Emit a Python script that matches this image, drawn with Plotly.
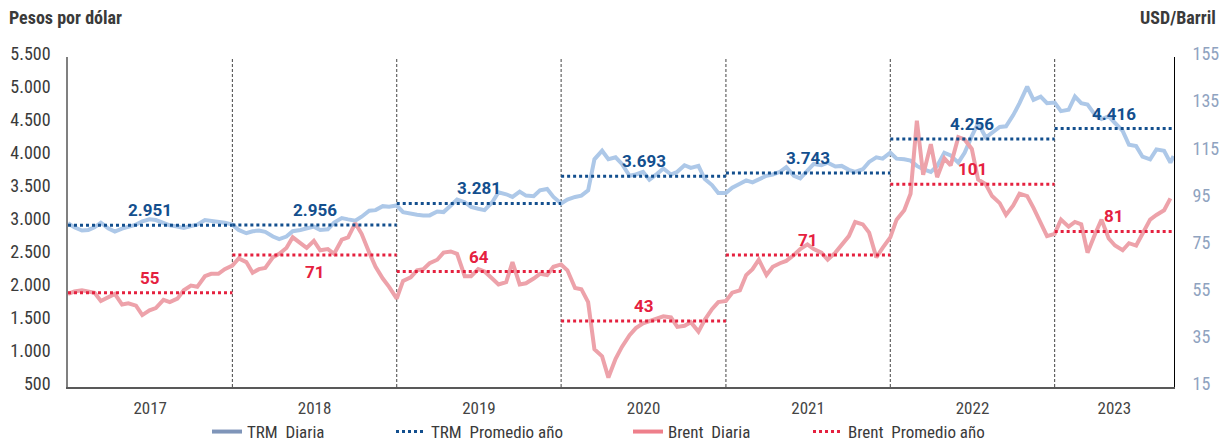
import pandas as pd
import plotly.graph_objects as go

# ---------------------------------------------------------------------------
# Data: TRM (pesos por dólar) and Brent (USD/barril), semi-monthly readings
# ---------------------------------------------------------------------------
years = [2017, 2018, 2019, 2020, 2021, 2022, 2023]
year_labels = ["2017", "2018", "2019", "2020", "2021", "2022", "2023"]

trm_avg = [2951, 2956, 3281, 3693, 3743, 4256, 4416]
brent_avg = [55, 71, 64, 43, 71, 101, 81]

trm_2017 = [2981, 2920, 2870, 2880, 2920, 2990, 2900, 2855, 2900, 2930, 2960, 3010,
            3040, 3030, 2980, 2950, 2930, 2910, 2940, 2960, 3030, 3020, 3000, 2990]
trm_2018 = [2960, 2880, 2830, 2860, 2870, 2850, 2780, 2740, 2780, 2860, 2880, 2900,
            2930, 2880, 2890, 2990, 3060, 3040, 3020, 3080, 3170, 3180, 3240, 3230]
trm_2019 = [3250, 3150, 3120, 3110, 3100, 3100, 3160, 3150, 3250, 3340, 3300, 3230,
            3200, 3180, 3300, 3450, 3420, 3380, 3460, 3400, 3390, 3480, 3500, 3380]
trm_2020 = [3280, 3340, 3380, 3400, 3480, 3950, 4080, 3950, 3980, 3880, 3700, 3720,
            3760, 3640, 3730, 3810, 3720, 3760, 3860, 3820, 3850, 3650, 3560, 3440]
trm_2021 = [3440, 3520, 3580, 3630, 3600, 3640, 3700, 3720, 3760, 3830, 3700, 3660,
            3780, 3880, 3860, 3900, 3840, 3850, 3790, 3760, 3800, 3910, 3980, 3960]
trm_2022 = [4050, 3960, 3950, 3930, 3850, 3800, 3760, 3850, 4050, 4010, 3900, 4050,
            4300, 4500, 4280, 4350, 4440, 4450, 4620, 4800, 5050, 4850, 4900, 4800]
trm_2023 = [4810, 4680, 4700, 4900, 4800, 4780, 4620, 4560, 4600, 4500, 4380, 4170,
            4150, 3990, 3950, 4100, 4080, 3900, 4000]

brent_2017 = [54.5, 55.5, 56, 55.5, 55, 51.5, 53, 54.5, 50, 50.5, 49.5, 45.5,
              47.5, 48.5, 52, 51, 52.5, 56, 58, 57.5, 62, 63, 63, 65]
brent_2018 = [66.5, 69.5, 68, 63.5, 65, 65.5, 70, 71.5, 74, 78.5, 76, 74,
              77, 73, 73.5, 71.5, 77.5, 78.5, 84.5, 80, 72, 66, 61, 57.5]
brent_2019 = [52.5, 60, 61.5, 64.5, 65, 67.5, 69, 72, 72.5, 71.5, 62, 62,
              65, 64, 61, 58.5, 59.5, 68, 58.5, 59, 61, 63, 62.5, 66]
brent_2020 = [67, 64.5, 57, 56.5, 51, 31, 28, 19, 27, 32, 37, 40,
              42, 43, 44, 45, 44.5, 40.5, 41, 42.5, 38.5, 43.5, 48, 51]
brent_2021 = [51.5, 55, 56, 62.5, 65, 69, 62.5, 66, 67.5, 68.5, 71, 73.5,
              75.5, 73.5, 72, 69, 72, 75, 79, 85, 84, 80.5, 70, 74]
brent_2022 = [78.5, 86, 90, 97, 128, 105, 118, 104, 112, 109, 121, 120,
              116, 103, 101, 96, 93, 88, 92, 97, 96, 91, 85, 79]
brent_2023 = [80, 86, 83, 85, 84, 72, 80, 86, 78, 75, 73, 76,
              75, 80, 86, 88, 90, 95]

trm = trm_2017 + trm_2018 + trm_2019 + trm_2020 + trm_2021 + trm_2022 + trm_2023
brent = brent_2017 + brent_2018 + brent_2019 + brent_2020 + brent_2021 + brent_2022 + brent_2023

# Observation dates: 1st and 15th of every month, plus the last TRM fixing
dates = list(pd.date_range("2017-01-01", "2023-09-15", freq="SMS")) + [pd.Timestamp("2023-09-22")]
dates_trm = dates[:len(trm)]
dates_brent = dates[:len(brent)]

x_start = pd.Timestamp("2017-01-01")
x_end = pd.Timestamp("2023-09-23")
year_starts = [pd.Timestamp(f"{y}-01-01") for y in years]
year_ends = year_starts[1:] + [x_end]
year_mids = [s + (e - s) / 2 for s, e in zip(year_starts, year_ends)]

# ---------------------------------------------------------------------------
# Styling
# ---------------------------------------------------------------------------
W, H = 1226, 444
L, R, T, B = 68, 52, 56.5, 57
PW, PH = W - L - R, H - T - B

NARROW = "Liberation Sans Narrow, Roboto Condensed, Roboto, sans-serif"
BOLD = "Roboto, Arial, sans-serif"

C_TRM_D = "#adc8e8"
C_BRENT_D = "#eda2aa"
C_TRM_D_LEG = "#7f95b9"
C_BRENT_D_LEG = "#ee7f8b"
C_TRM_A = "#134f8e"
C_BRENT_A = "#e5213f"
C_TEXT = "#3a3a3a"
C_RIGHT = "#8fa3bf"


def paper_x(px):
    return (px - L) / PW


def paper_y(py):
    return (H - B - py) / PH


def segments(values):
    xs, ys = [], []
    for s, e, v in zip(year_starts, year_ends, values):
        xs += [s, e, None]
        ys += [v, v, None]
    return xs, ys


def miles(v):
    return f"{v:,.0f}".replace(",", ".")


fig = go.Figure()

fig.add_trace(go.Scatter(
    x=dates_trm, y=trm, yaxis="y", mode="lines",
    line=dict(color=C_TRM_D, width=4), showlegend=False, hoverinfo="skip"))
fig.add_trace(go.Scatter(
    x=dates_brent, y=brent, yaxis="y2", mode="lines",
    line=dict(color=C_BRENT_D, width=4), showlegend=False, hoverinfo="skip"))

sx, sy = segments(trm_avg)
fig.add_trace(go.Scatter(
    x=sx, y=sy, yaxis="y3", mode="lines",
    line=dict(color=C_TRM_A, width=3, dash="dot"), showlegend=False, hoverinfo="skip"))
sx, sy = segments(brent_avg)
fig.add_trace(go.Scatter(
    x=sx, y=sy, yaxis="y4", mode="lines",
    line=dict(color=C_BRENT_A, width=3, dash="dot"), showlegend=False, hoverinfo="skip"))

# Legend entries (one legend box per entry, laid out along the bottom)
legend_items = [
    ("TRM\u00a0\u00a0Diaria", C_TRM_D_LEG, "solid", 4, "legend", 207),
    ("TRM\u00a0\u00a0Promedio año", C_TRM_A, "dot", 3, "legend2", 391),
    ("Brent\u00a0\u00a0Diaria", C_BRENT_D_LEG, "solid", 4, "legend3", 628),
    ("Brent\u00a0\u00a0Promedio año", C_BRENT_A, "dot", 3, "legend4", 808),
]
for name, color, dash, width, leg, _ in legend_items:
    fig.add_trace(go.Scatter(
        x=[None], y=[None], mode="lines", name=name, legend=leg,
        line=dict(color=color, width=width, dash=dash)))

legend_layout = {}
for name, color, dash, width, leg, xpx in legend_items:
    legend_layout[leg] = dict(
        x=xpx / W, y=1 - 432 / H, xref="container", yref="container",
        xanchor="left", yanchor="middle", orientation="h",
        font=dict(family=NARROW, size=17, color=C_TEXT),
        bgcolor="rgba(0,0,0,0)", borderwidth=0, itemwidth=30)

# Average value labels
annotations = []
for mid, v in zip(year_mids, trm_avg):
    annotations.append(dict(
        x=mid, y=v, xref="x", yref="y3", text=miles(v), showarrow=False,
        yshift=15, font=dict(family=BOLD, size=17, color=C_TRM_A, weight="bold")))
for i, (mid, v) in enumerate(zip(year_mids, brent_avg)):
    shift = -17 if years[i] == 2018 else 15
    annotations.append(dict(
        x=mid, y=v, xref="x", yref="y4", text=miles(v), showarrow=False,
        yshift=shift, font=dict(family=BOLD, size=17, color=C_BRENT_A, weight="bold")))

# Axis titles
annotations.append(dict(
    x=paper_x(7), y=paper_y(17), xref="paper", yref="paper", text="<b>Pesos por dólar</b>",
    showarrow=False, xanchor="left", yanchor="middle",
    font=dict(family=NARROW, size=18, color=C_TEXT)))
annotations.append(dict(
    x=paper_x(1218), y=paper_y(17), xref="paper", yref="paper", text="<b>USD/Barril</b>",
    showarrow=False, xanchor="right", yanchor="middle",
    font=dict(family=NARROW, size=18, color=C_TEXT)))

# Dashed separators between years
shapes = [dict(type="line", xref="x", yref="paper", x0=s, x1=s, y0=0, y1=1,
               line=dict(color="#444444", width=1, dash="3px,2px"), layer="below")
          for s in year_starts[1:]]

fig.update_layout(
    width=W, height=H,
    margin=dict(l=L, r=R, t=T, b=B, autoexpand=False),
    paper_bgcolor="white", plot_bgcolor="white",
    separators=",.",
    showlegend=True,
    annotations=annotations,
    shapes=shapes,
    xaxis=dict(
        type="date", range=[x_start, x_end],
        tickvals=year_mids, ticktext=year_labels, ticks="",
        showgrid=False, zeroline=False,
        showline=True, linecolor="#595959", linewidth=1.5,
        tickfont=dict(family=NARROW, size=17, color="#444444", weight="normal"),
        ticklabelstandoff=5),
    yaxis=dict(
        range=[500, 5500], tickvals=list(range(500, 5501, 500)), tickformat=",d",
        ticks="", showgrid=False, zeroline=False,
        showline=True, linecolor="#808080", linewidth=1.5,
        tickfont=dict(family=NARROW, size=18, color=C_TEXT),
        ticklabelstandoff=12, ticklabelshift=-3),
    yaxis2=dict(
        range=[15, 155], tickvals=list(range(15, 156, 20)), overlaying="y", side="right",
        ticks="", showgrid=False, zeroline=False,
        showline=True, linecolor="#000000", linewidth=1,
        tickfont=dict(family=NARROW, size=18, color=C_RIGHT),
        ticklabelstandoff=14, ticklabelshift=-3),
    yaxis3=dict(range=[500, 5500], overlaying="y", visible=False),
    yaxis4=dict(range=[15, 155], overlaying="y", visible=False),
    **legend_layout,
)

fig.write_html("out.html")
